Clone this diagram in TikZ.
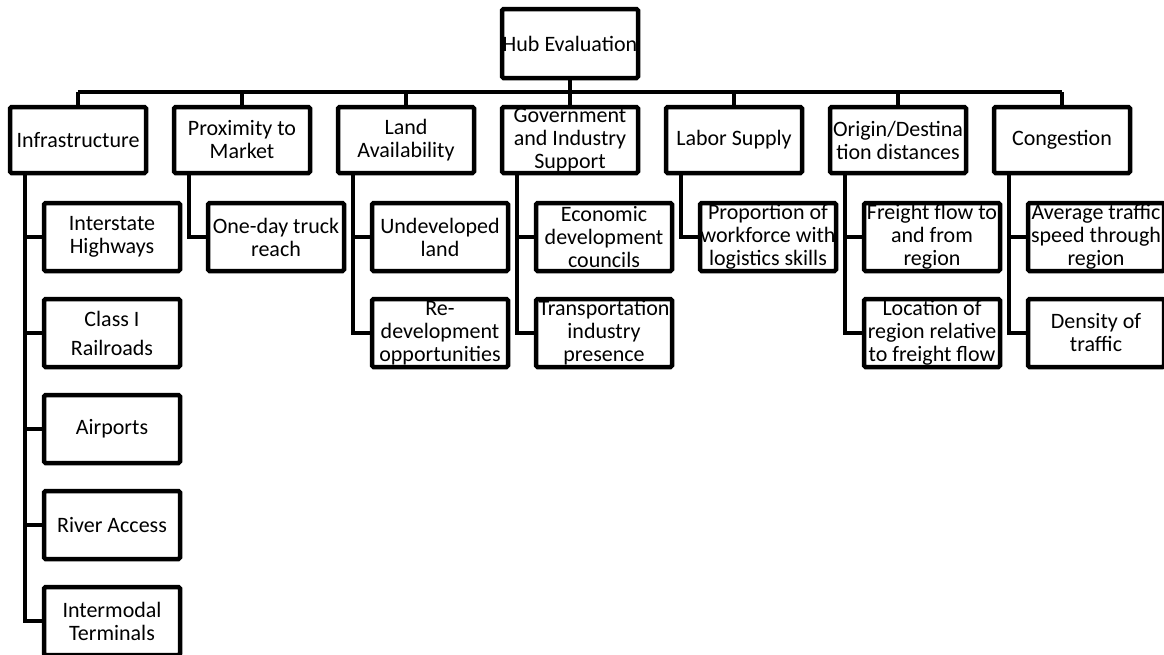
\documentclass[tikz,border=0pt]{standalone}
\usepackage{fontspec}
\setmainfont{Carlito}
\usetikzlibrary{positioning}

\begin{document}
\begin{tikzpicture}[x=1pt, y=-1pt,
		box/.style={draw, line width=4.5pt, rounded corners=1.5pt, minimum width=136pt, minimum height=68pt,
			inner sep=0pt, align=center, font=\fontsize{22}{23}\selectfont},
		headbox/.style={box, minimum height=66pt},
		link/.style={line width=4pt}]
		% --- Geometry Defs ---
		\def\Ltop{140}
		\def\Dx{34}
		\path[use as bounding box, clip] (0,0) rectangle (1164,654);
		
		% --- Root ---
		\node[box, minimum height=69pt] (hub) at (570,43.5) {Hub Evaluation};
		
		% --- Criteria ---
		\node[headbox] (infra) at (78,\Ltop) {Infrastructure};
		\node[headbox] (prox) at (242,\Ltop) {Proximity to\\Market};
		\node[headbox] (land) at (406,\Ltop) {Land\\Availability};
		\node[headbox] (gov) at (570,\Ltop) {Government\\and Industry\\Support};
		\node[headbox] (labor) at (734,\Ltop) {Labor Supply};
		\node[headbox] (od) at (898,\Ltop) {Origin/Destina\\tion distances};
		\node[headbox] (cong) at (1062,\Ltop) {Congestion};
		
		% --- Measures ---
		\node[box] (infA) at (78+\Dx,237) {Interstate\\Highways};
		\node[box] (infB) at (78+\Dx,333) {Class I\\[6pt]Railroads};
		\node[box] (infC) at (78+\Dx,429) {Airports};
		\node[box] (infD) at (78+\Dx,525) {River Access};
		\node[box] (infE) at (78+\Dx,621) {Intermodal\\Terminals};
		\node[box] (proxA) at (242+\Dx,237) {One-day truck\\reach};
		\node[box] (landA) at (406+\Dx,237) {Undeveloped\\land};
		\node[box] (landB) at (406+\Dx,333) {Re-\\development\\opportunities};
		\node[box] (govA) at (570+\Dx,237) {Economic\\development\\councils};
		\node[box] (govB) at (570+\Dx,333) {Transportation\\industry\\presence};
		\node[box] (laborA) at (734+\Dx,237) {Proportion of\\workforce with\\logistics skills};
		\node[box] (odA) at (898+\Dx,237) {Freight flow to\\and from\\region};
		\node[box] (odB) at (898+\Dx,333) {Location of\\region relative\\to freight flow};
		\node[box] (congA) at (1062+\Dx,237) {Average traffic\\speed through\\region};
		\node[box] (congB) at (1062+\Dx,333) {Density of\\traffic};
		
		% --- Bus ---
		\coordinate (bus) at (0,92);
		\draw[link] (hub.south) -- (hub.south |- bus);
		\draw[link] (infra.north |- bus) -- (cong.north |- bus);
		\foreach \n in {infra,prox,land,gov,labor,od,cong}
			\draw[link] (\n.north) -- (\n.north |- bus);
		
		% --- Trunks ---
		\foreach \p/\c in {infra/infA,infra/infB,infra/infC,infra/infD,infra/infE,prox/proxA,land/landA,land/landB,
			gov/govA,gov/govB,labor/laborA,od/odA,od/odB,cong/congA,cong/congB}
			\draw[link] ([xshift=-53pt]\p.south) |- (\c.west);
	\end{tikzpicture}
\end{document}
